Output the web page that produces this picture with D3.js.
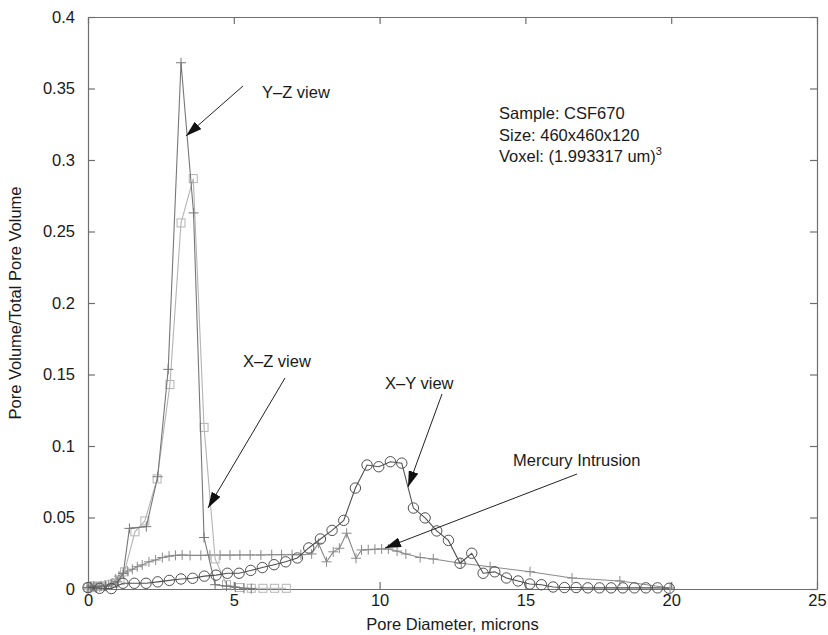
<!DOCTYPE html>
<html>
<head>
<meta charset="utf-8">
<script src="https://cdn.jsdelivr.net/npm/d3@7"></script>
<style>
  html, body { margin: 0; padding: 0; background: #fff; }
  svg text { font-family: "Liberation Sans", Arial, Helvetica, sans-serif; fill: #1a1a1a; }
</style>
</head>
<body>
<svg id="chart" width="828" height="635"></svg>
<script>
// Pore size distributions: three image-derived views and mercury intrusion
const yzX = [0, 0.1, 0.2, 0.3, 0.45, 0.6, 0.8, 1.0, 1.21, 1.42, 2.0, 2.39, 2.75, 3.19, 3.62, 3.98, 4.36, 4.75, 5.05, 5.35, 5.6];
const yzY = [0.001, 0.002, 0.002, 0.001, 0.002, 0.002, 0.003, 0.005, 0.011, 0.0424, 0.0436, 0.0785, 0.1536, 0.368, 0.263, 0.036, 0.003, 0.002, 0.0013, 0.0005, 0.0003];

const xzX = [0, 0.1, 0.2, 0.35, 0.5, 0.7, 0.9, 1.1, 1.25, 1.61, 1.95, 2.37, 2.81, 3.19, 3.61, 3.98, 4.36, 4.75, 5.2, 5.6, 6.0, 6.4, 6.8];
const xzY = [0.001, 0.001, 0.002, 0.002, 0.002, 0.003, 0.004, 0.006, 0.012, 0.040, 0.0476, 0.077, 0.143, 0.256, 0.287, 0.113, 0.021, 0.003, 0.001, 0.0005, 0.0005, 0.0005, 0.0005];

const xyX = [0, 0.4, 0.8, 1.2, 1.59, 1.99, 2.39, 2.79, 3.19, 3.59, 3.99, 4.39, 4.78, 5.18, 5.58, 5.98, 6.38,
  6.78, 7.18, 7.57, 7.97, 8.37, 8.77, 9.17, 9.57, 9.97, 10.37, 10.76, 11.16, 11.56, 11.96, 12.36, 12.76,
  13.16, 13.55, 13.95, 14.35, 14.75, 15.15, 15.55, 15.95, 16.34, 16.74, 17.14, 17.54, 17.94, 18.34, 18.74,
  19.13, 19.53, 19.93];
const xyY = [0.001, 0.0005, 0.0003, 0.004, 0.004, 0.004, 0.005, 0.006, 0.007, 0.0075, 0.009, 0.0097, 0.011,
  0.011, 0.013, 0.015, 0.017, 0.019, 0.0217, 0.0287, 0.035, 0.041, 0.048, 0.0706, 0.0867, 0.0855, 0.089,
  0.088, 0.0566, 0.0497, 0.0406, 0.034, 0.018, 0.025, 0.011, 0.012, 0.0077, 0.0056, 0.0035, 0.003, 0.0014,
  0.001, 0.001, 0.0008, 0.0008, 0.0008, 0.0008, 0.0008, 0.0008, 0.0008, 0.0005];

const hgX = [0, 0.1, 0.25, 0.4, 0.55, 0.7, 0.85, 0.95, 1.06, 1.21, 1.35, 1.52, 1.69, 1.86, 2.09, 2.32, 2.55,
  2.78, 3.0, 3.23, 3.5, 3.87, 4.18, 4.53, 4.87, 5.21, 5.56, 5.93, 6.3, 6.64, 7.0, 7.3, 7.67, 7.9, 8.18,
  8.41, 8.62, 8.87, 9.19, 9.38, 9.61, 9.84, 10.07, 10.3, 10.6, 10.9, 11.39, 11.84, 12.8, 13.79, 15.16,
  16.6, 18.24, 19.96];
const hgY = [0.0, 0.0005, 0.001, 0.0015, 0.002, 0.003, 0.004, 0.0068, 0.009, 0.011, 0.0126, 0.0138, 0.0156,
  0.0168, 0.019, 0.0203, 0.022, 0.023, 0.0235, 0.0238, 0.0235, 0.0235, 0.0237, 0.0237, 0.0237, 0.0238,
  0.0238, 0.0238, 0.024, 0.024, 0.024, 0.024, 0.0245, 0.032, 0.019, 0.026, 0.0285, 0.039, 0.0215, 0.0273,
  0.0275, 0.0278, 0.028, 0.028, 0.0265, 0.0245, 0.022, 0.021, 0.018, 0.0156, 0.0121, 0.0077, 0.0056, 0.0007];

const xTicks = [0, 5, 10, 15, 20, 25];
const yTicks = [0, 0.05, 0.1, 0.15, 0.2, 0.25, 0.3, 0.35, 0.4];
const infoLines = ["Sample: CSF670", "Size: 460x460x120", "Voxel: (1.993317 um)"];

const svg = d3.select("#chart");
const margin = { left: 88, right: 11, top: 17, bottom: 46 };
const W = 828, H = 635;
const x = d3.scaleLinear().domain([0, 25]).range([margin.left, W - margin.right]);
const y = d3.scaleLinear().domain([0, 0.4]).range([H - margin.bottom, margin.top]);

const axisColor = "#6e6e6e";
const fontSize = 16.5;

// Axes with inward ticks on all four sides (boxed frame)
const fmtY = d => d === 0 ? "0" : String(+d.toFixed(2));
svg.append("g").attr("transform", `translate(0,${y(0)})`)
  .call(d3.axisBottom(x).tickValues(xTicks).tickSizeInner(-7).tickSizeOuter(0).tickPadding(5).tickFormat(d3.format("d")))
  .call(g => g.selectAll("text").attr("font-size", fontSize).attr("fill", "#1a1a1a"));
svg.append("g").attr("transform", `translate(${x(0)},0)`)
  .call(d3.axisLeft(y).tickValues(yTicks).tickSizeInner(-7).tickSizeOuter(0).tickPadding(13).tickFormat(fmtY))
  .call(g => g.selectAll("text").attr("font-size", fontSize).attr("fill", "#1a1a1a"));
svg.append("g").attr("transform", `translate(0,${y(0.4)})`)
  .call(d3.axisTop(x).tickValues(xTicks).tickSizeInner(-7).tickSizeOuter(0).tickFormat(""));
svg.append("g").attr("transform", `translate(${x(25)},0)`)
  .call(d3.axisRight(y).tickValues(yTicks).tickSizeInner(-7).tickSizeOuter(0).tickFormat(""));
svg.selectAll(".domain, .tick line").attr("stroke", axisColor).attr("stroke-width", 1.2);
svg.selectAll(".tick text").attr("font-family", "Liberation Sans, Arial, sans-serif");

// Axis titles
svg.append("text").attr("x", (x(0) + x(25)) / 2).attr("y", 630)
  .attr("text-anchor", "middle").attr("font-size", fontSize).text("Pore Diameter, microns");
svg.append("text").attr("transform", `translate(21,${(y(0) + y(0.4)) / 2}) rotate(-90)`)
  .attr("text-anchor", "middle").attr("font-size", fontSize).text("Pore Volume/Total Pore Volume");

const plot = svg.append("g");
const line = d3.line().x(d => x(d[0])).y(d => y(d[1]));
const zip = (a, b) => a.map((v, i) => [v, b[i]]);

function drawSeries(data, color, marker) {
  plot.append("path").datum(data).attr("d", line)
    .attr("fill", "none").attr("stroke", color).attr("stroke-width", 1.1);
  const g = plot.append("g").attr("stroke", color).attr("fill", "none").attr("stroke-width", 1);
  data.forEach(d => {
    const cx = x(d[0]), cy = y(d[1]);
    if (marker === "plus") {
      g.append("path").attr("d", `M${cx - 5},${cy}H${cx + 5}M${cx},${cy - 5}V${cy + 5}`);
    } else if (marker === "square") {
      g.append("rect").attr("x", cx - 4).attr("y", cy - 4).attr("width", 8).attr("height", 8);
    } else {
      g.append("circle").attr("cx", cx).attr("cy", cy).attr("r", 5.2);
    }
  });
}

drawSeries(zip(hgX, hgY), "#8a8a8a", "plus");
drawSeries(zip(xzX, xzY), "#b4b4b4", "square");
drawSeries(zip(yzX, yzY), "#777777", "plus");
drawSeries(zip(xyX, xyY), "#505050", "circle");

// Annotation arrows
svg.append("defs").append("marker")
  .attr("id", "head").attr("viewBox", "0 0 16 10").attr("refX", 16).attr("refY", 5)
  .attr("markerWidth", 16).attr("markerHeight", 10).attr("markerUnits", "userSpaceOnUse")
  .attr("orient", "auto")
  .append("path").attr("d", "M0,0L16,5L0,10Z").attr("fill", "#111");

const arrows = [
  { text: "Y\u2013Z view", tx: 262, ty: 98, from: [243, 86], to: [186, 136] },
  { text: "X\u2013Z view", tx: 243, ty: 367, from: [285, 378], to: [208, 508] },
  { text: "X\u2013Y view", tx: 385, ty: 389, from: [442, 394], to: [408, 487] },
  { text: "Mercury Intrusion", tx: 513, ty: 466, from: [577, 474], to: [385, 548] }
];
arrows.forEach(a => {
  svg.append("line").attr("x1", a.from[0]).attr("y1", a.from[1]).attr("x2", a.to[0]).attr("y2", a.to[1])
    .attr("stroke", "#222").attr("stroke-width", 1).attr("marker-end", "url(#head)");
  svg.append("text").attr("x", a.tx).attr("y", a.ty).attr("font-size", fontSize).text(a.text);
});

// Sample description block
const info = svg.append("g");
infoLines.forEach((t, i) => {
  const tx = info.append("text").attr("x", 499).attr("y", 119 + i * 21.5).attr("font-size", fontSize).text(t);
  if (i === infoLines.length - 1) {
    tx.append("tspan").attr("dy", -7).attr("font-size", 11).text("3");
  }
});
</script>
</body>
</html>
